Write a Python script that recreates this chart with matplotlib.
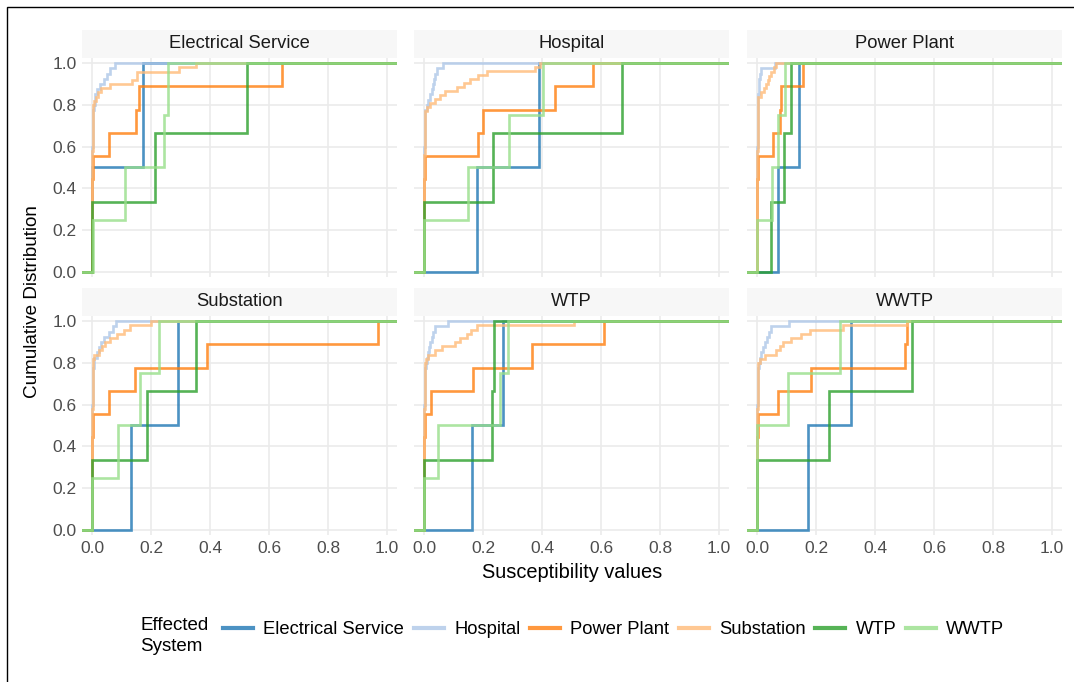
import numpy as np
import matplotlib
matplotlib.use('Agg')
import matplotlib.pyplot as plt
from matplotlib.patches import Rectangle
from matplotlib.lines import Line2D

plt.rcParams['font.family'] = ['Liberation Sans', 'DejaVu Sans']

# Facets (affecting system) and the effected systems drawn in each facet
FACETS = ['Electrical Service', 'Hospital', 'Power Plant', 'Substation', 'WTP', 'WWTP']
SYSTEMS = ['Electrical Service', 'Hospital', 'Power Plant', 'Substation', 'WTP', 'WWTP']
COLORS = ['#1f77b4', '#aec7e8', '#ff7f0e', '#ffbb78', '#2ca02c', '#98df8a']
X_TICKS = [0.0, 0.2, 0.4, 0.6, 0.8, 1.0]
Y_TICKS = [0.0, 0.2, 0.4, 0.6, 0.8, 1.0]

# the bulk of hospital / substation / power plant values sit right at zero
HOSP_LOW = [0.0, 0.0, 0.0, 0.0, 0.0, 0.0, 0.0, 0.0, 0.0001, 0.0001,
            0.0002, 0.0003, 0.0003, 0.0004, 0.0005, 0.0006, 0.0006, 0.0007,
            0.0008, 0.0009, 0.0010, 0.0012, 0.0013, 0.0015, 0.0016, 0.0018,
            0.0020, 0.0022, 0.0025, 0.0028]
SUB_LOW = [0.0, 0.0, 0.0, 0.0, 0.0, 0.0, 0.0, 0.0, 0.0, 0.0,
           0.0001, 0.0001, 0.0002, 0.0002, 0.0003, 0.0003, 0.0004, 0.0005,
           0.0005, 0.0006, 0.0007, 0.0008, 0.0009, 0.0010, 0.0011, 0.0012,
           0.0013, 0.0014, 0.0015, 0.0016, 0.0018, 0.0019, 0.0021, 0.0023,
           0.0025, 0.0027, 0.0030, 0.0033, 0.0036, 0.0040]
PP_LOW = [0.0, 0.0, 0.001, 0.001, 0.002]

# facet: Electrical Service
es_elec = [0.0, 0.172]
es_hosp = HOSP_LOW + [0.004, 0.006, 0.011, 0.011, 0.017, 0.028, 0.039, 0.05, 0.06, 0.079]
es_pp = PP_LOW + [0.056, 0.149, 0.160, 0.643]
es_sub = SUB_LOW + [0.006, 0.012, 0.02, 0.03, 0.062, 0.136, 0.153, 0.153, 0.294, 0.354]
es_wtp = [0.0, 0.215, 0.525]
es_wwtp = [0.002, 0.113, 0.245, 0.256]

# facet: Hospital
ho_elec = [0.179, 0.389]
ho_hosp = HOSP_LOW + [0.003, 0.009, 0.015, 0.02, 0.026, 0.03, 0.034, 0.038, 0.043, 0.065]
ho_pp = PP_LOW + [0.184, 0.199, 0.444, 0.572]
ho_sub = SUB_LOW + [0.009, 0.02, 0.037, 0.054, 0.071, 0.111, 0.134, 0.157, 0.184,
                    0.212, 0.376, 0.393]
ho_wtp = [0.0, 0.235, 0.672]
ho_wwtp = [0.0, 0.148, 0.289, 0.405]

# facet: Power Plant
pp_elec = [0.071, 0.141]
pp_hosp = HOSP_LOW + [0.002, 0.003, 0.003, 0.004, 0.005, 0.006, 0.007, 0.011, 0.015, 0.06]
pp_pp = PP_LOW + [0.054, 0.077, 0.080, 0.156]
pp_sub = SUB_LOW + [0.002, 0.003, 0.015, 0.023, 0.032, 0.036, 0.041, 0.049, 0.057, 0.066]
pp_wtp = [0.049, 0.09, 0.114]
pp_wwtp = [0.0, 0.052, 0.071, 0.094]

# facet: Substation
su_elec = [0.133, 0.292]
su_hosp = HOSP_LOW + [0.003, 0.005, 0.008, 0.017, 0.023, 0.031, 0.04, 0.056, 0.07, 0.08]
su_pp = PP_LOW + [0.059, 0.145, 0.390, 0.969]
su_sub = SUB_LOW + [0.003, 0.008, 0.023, 0.034, 0.045, 0.062, 0.085, 0.107, 0.13, 0.2]
su_wtp = [0.0, 0.186, 0.354]
su_wwtp = [0.0, 0.087, 0.162, 0.226]

# facet: WTP
wt_elec = [0.164, 0.269]
wt_hosp = HOSP_LOW + [0.003, 0.006, 0.009, 0.013, 0.017, 0.021, 0.026, 0.031, 0.037, 0.082]
wt_pp = PP_LOW + [0.023, 0.165, 0.365, 0.61]
wt_sub = SUB_LOW + [0.007, 0.015, 0.037, 0.06, 0.105, 0.122, 0.145, 0.158, 0.178, 0.51]
wt_wtp = [0.0, 0.232, 0.238]
wt_wwtp = [0.0, 0.046, 0.258, 0.286]

# facet: WWTP
ww_elec = [0.173, 0.318]
ww_hosp = HOSP_LOW + [0.003, 0.006, 0.01, 0.015, 0.02, 0.026, 0.033, 0.04, 0.049, 0.107]
ww_pp = PP_LOW + [0.071, 0.184, 0.50, 0.508]
ww_sub = SUB_LOW + [0.009, 0.026, 0.066, 0.077, 0.088, 0.116, 0.15, 0.179, 0.29, 0.51]
ww_wtp = [0.0, 0.244, 0.527]
ww_wwtp = [0.0, 0.0, 0.105, 0.282]

panels = {
    'Electrical Service': [es_elec, es_hosp, es_pp, es_sub, es_wtp, es_wwtp],
    'Hospital': [ho_elec, ho_hosp, ho_pp, ho_sub, ho_wtp, ho_wwtp],
    'Power Plant': [pp_elec, pp_hosp, pp_pp, pp_sub, pp_wtp, pp_wwtp],
    'Substation': [su_elec, su_hosp, su_pp, su_sub, su_wtp, su_wwtp],
    'WTP': [wt_elec, wt_hosp, wt_pp, wt_sub, wt_wtp, wt_wwtp],
    'WWTP': [ww_elec, ww_hosp, ww_pp, ww_sub, ww_wtp, ww_wwtp],
}

W, H = 1074, 682
fig = plt.figure(figsize=(W / 100, H / 100), dpi=100)

ALPHA = 0.8
LW = 1.9
TXT = '#1a1a1a'
TICK = '#4d4d4d'

col_left = [82, 414, 747]
panel_w = 315
row_top = [58, 316]
panel_h = 219
strip_h = 28


def px_axes(left, top, w, h):
    return fig.add_axes([left / W, 1 - (top + h) / H, w / W, h / H])


for i, facet in enumerate(FACETS):
    r, c = divmod(i, 3)
    ax = px_axes(col_left[c], row_top[r], panel_w, panel_h)
    for vals, col in zip(panels[facet], COLORS):
        v = np.sort(np.asarray(vals, dtype=float))
        n = len(v)
        xs = np.concatenate([[-1.0], v, [2.0]])
        ys = np.concatenate([[0.0], np.arange(1, n + 1) / n, [1.0]])
        ax.step(xs, ys, where='post', color=col, alpha=ALPHA, lw=LW,
                solid_joinstyle='miter')
    ax.set_xlim(-0.034, 1.034)
    ax.set_ylim(-0.025, 1.025)
    ax.set_xticks(X_TICKS)
    ax.set_yticks(Y_TICKS)
    ax.grid(True, color='#ebebeb', lw=1.2)
    ax.set_axisbelow(True)
    for s in ax.spines.values():
        s.set_visible(False)
    ax.tick_params(length=0, labelsize=12.5, colors=TICK, pad=4)
    if r == 1:
        ax.set_xticklabels([f'{t:.1f}' for t in X_TICKS])
    else:
        ax.set_xticklabels([])
    if c == 0:
        ax.set_yticklabels([f'{t:.1f}' for t in Y_TICKS])
    else:
        ax.set_yticklabels([])

    # facet strip
    sax = px_axes(col_left[c], row_top[r] - strip_h, panel_w, strip_h)
    sax.set_facecolor('#f7f7f7')
    sax.set_xticks([])
    sax.set_yticks([])
    for s in sax.spines.values():
        s.set_visible(False)
    sax.text(0.5, 0.5, facet, ha='center', va='center', fontsize=13.2,
             color=TXT, transform=sax.transAxes)

fig.text(572 / W, 1 - 573 / H, 'Susceptibility values', ha='center', va='center',
         fontsize=14.4, color='black')
fig.text(33 / W, 1 - 302 / H, 'Cumulative Distribution', ha='center', va='center',
         rotation=90, fontsize=13.6, color='black')

# legend
fig.text(140 / W, 1 - 636 / H, 'Effected\nSystem', ha='left', va='center',
         fontsize=13.5, color='black', linespacing=1.35)
handles = [Line2D([0], [0], color=col, alpha=ALPHA, lw=3) for col in COLORS]
fig.legend(handles, SYSTEMS, loc='center left', bbox_to_anchor=(223 / W, 1 - 630 / H),
           ncol=6, frameon=False, fontsize=13.2, handlelength=1.65, handletextpad=0.55,
           columnspacing=0.52, borderaxespad=0, borderpad=0)

# outer frame
fig.add_artist(Rectangle((7 / W, -0.1), 2.0, (H - 7) / H + 0.1, transform=fig.transFigure,
                         fill=False, edgecolor='black', lw=1.0))

fig.savefig('out.png', dpi=100)
